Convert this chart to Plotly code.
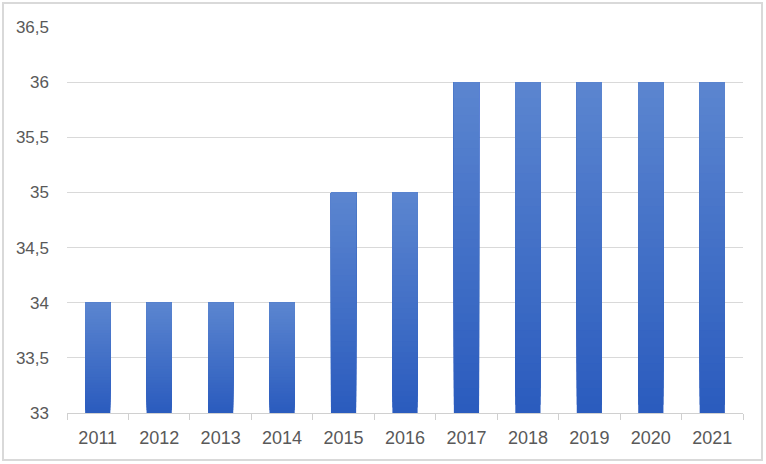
import plotly.graph_objects as go

years = ["2011", "2012", "2013", "2014", "2015", "2016", "2017", "2018", "2019", "2020", "2021"]
values = [34, 34, 34, 34, 35, 35, 36, 36, 36, 36, 36]
y_min, y_max = 33, 36.5

W, H = 766, 464
ml, mr, mt, mb = 67, 23, 27, 51

bottom_rgb = (43, 92, 190)
top_rgb = (92, 134, 208)
N = 40

fig = go.Figure()
for i in range(N):
    f = i / N
    col = tuple(round(b + (t - b) * f) for b, t in zip(bottom_rgb, top_rgb))
    bases = [y_min + (v - y_min) * f for v in values]
    heights = [v - b for v, b in zip(values, bases)]
    fig.add_trace(go.Bar(
        x=years, y=heights, base=bases, width=0.41,
        marker=dict(color="rgb(%d,%d,%d)" % col, line=dict(width=0)),
        showlegend=False, hoverinfo="skip",
    ))

pw = W - ml - mr
ph = H - mt - mb
fig.add_shape(type="rect", xref="paper", yref="paper",
              x0=(3 - ml) / pw, x1=(762 - ml) / pw,
              y0=-(460 - mt - ph) / ph, y1=(ph + mt - 3) / ph,
              line=dict(color="#d9d9d9", width=2), layer="below")

fig.update_layout(
    width=W, height=H, margin=dict(l=ml, r=mr, t=mt, b=mb),
    barmode="overlay", separators=",.",
    paper_bgcolor="white", plot_bgcolor="white",
    font=dict(family="Liberation Sans, Arial, sans-serif", size=18, color="#595959"),
    xaxis=dict(type="category", showline=True, linecolor="#d0d0d0", linewidth=1,
               ticks="outside", tickson="boundaries", ticklen=6, tickcolor="#d0d0d0",
               showgrid=False, ticklabelstandoff=8),
    yaxis=dict(range=[y_min, y_max], dtick=0.5, showgrid=True, gridcolor="#d9d9d9",
               gridwidth=1, zeroline=False, showline=False, ticks="",
               ticklabelstandoff=17, tickfont=dict(size=17)),
)
fig.write_html("out.html")
